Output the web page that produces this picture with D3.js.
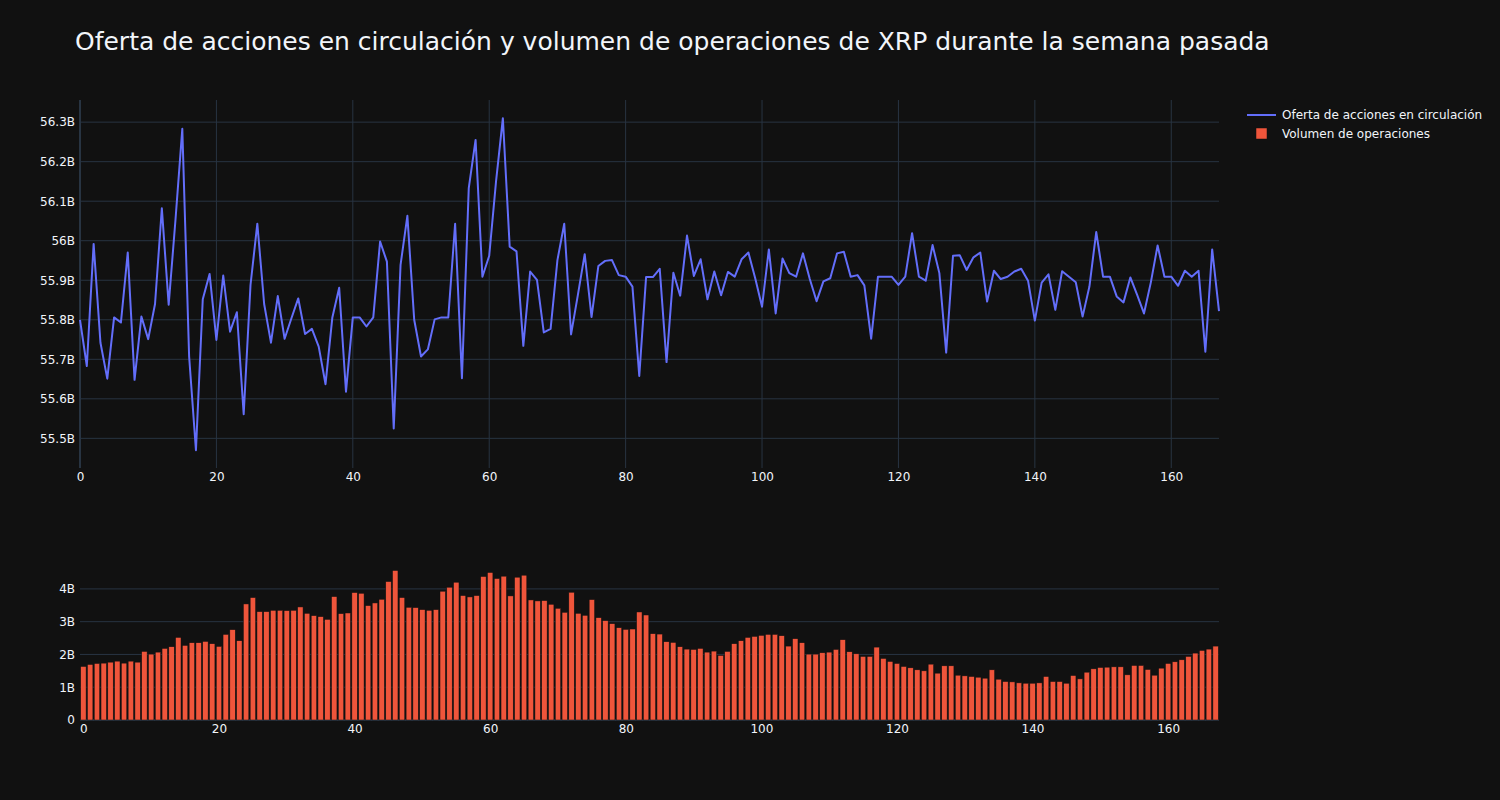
<!DOCTYPE html>
<html>
<head>
<meta charset="utf-8">
<script src="https://cdn.jsdelivr.net/npm/d3@7"></script>
<style>
  body { margin: 0; background: #111111; }
  svg { display: block; font-family: "DejaVu Sans", Verdana, sans-serif; }
</style>
</head>
<body>
<svg id="chart"></svg>
<script>
// Circulating supply, in billions, one value per hour (0..167)
let supply = [
  55.80, 55.683, 55.992, 55.742, 55.651, 55.806, 55.793, 55.97, 55.648, 55.808,
  55.751, 55.84, 56.082, 55.838, 56.053, 56.283, 55.707, 55.47, 55.852, 55.916,
  55.749, 55.912, 55.77, 55.819, 55.561, 55.888, 56.043, 55.84, 55.742, 55.86,
  55.752, 55.804, 55.854, 55.764, 55.777, 55.732, 55.637, 55.806, 55.881, 55.618,
  55.806, 55.806, 55.783, 55.806, 55.998, 55.947, 55.525, 55.939, 56.063, 55.80,
  55.707, 55.725, 55.801, 55.806, 55.806, 56.043, 55.652, 56.133, 56.255, 55.909,
  55.962, 56.15, 56.31, 55.985, 55.973, 55.734, 55.922, 55.901, 55.768, 55.777,
  55.951, 56.043, 55.763, 55.863, 55.966, 55.807, 55.936, 55.949, 55.951, 55.913,
  55.909, 55.884, 55.658, 55.908, 55.908, 55.929, 55.693, 55.919, 55.861, 56.013,
  55.911, 55.953, 55.852, 55.922, 55.862, 55.921, 55.909, 55.953, 55.97, 55.905,
  55.833, 55.978, 55.816, 55.955, 55.918, 55.909, 55.968, 55.903, 55.847, 55.897,
  55.905, 55.968, 55.972, 55.909, 55.913, 55.887, 55.752, 55.909, 55.909, 55.909,
  55.888, 55.909, 56.019, 55.909, 55.899, 55.989, 55.918, 55.717, 55.962, 55.963,
  55.926, 55.958, 55.97, 55.846, 55.924, 55.903, 55.909, 55.922, 55.929, 55.899,
  55.798, 55.894, 55.915, 55.825, 55.923, 55.909, 55.895, 55.808, 55.884, 56.022,
  55.909, 55.909, 55.859, 55.844, 55.907, 55.863, 55.816, 55.894, 55.988, 55.909,
  55.909, 55.886, 55.924, 55.909, 55.924, 55.719, 55.978, 55.822
];

// Trading volume, in billions
let volume = [
  1.633, 1.694, 1.724, 1.735, 1.765, 1.796, 1.735, 1.796, 1.765, 2.092,
  2.01, 2.071, 2.184, 2.235, 2.52, 2.276, 2.357, 2.357, 2.398, 2.327,
  2.245, 2.612, 2.755, 2.418, 3.541, 3.735, 3.306, 3.306, 3.347, 3.347,
  3.337, 3.347, 3.449, 3.255, 3.184, 3.153, 3.071, 3.765, 3.245, 3.265,
  3.888, 3.867, 3.49, 3.571, 3.684, 4.224, 4.561, 3.735, 3.439, 3.429,
  3.367, 3.347, 3.367, 3.929, 4.051, 4.204, 3.796, 3.755, 3.796, 4.378,
  4.5, 4.316, 4.388, 3.786, 4.357, 4.418, 3.663, 3.633, 3.643, 3.531,
  3.408, 3.286, 3.898, 3.255, 3.194, 3.673, 3.122, 3.031, 2.939, 2.816,
  2.765, 2.776, 3.296, 3.204, 2.633, 2.622, 2.388, 2.367, 2.235, 2.163,
  2.153, 2.184, 2.071, 2.102, 1.969, 2.092, 2.327, 2.418, 2.52, 2.551,
  2.582, 2.612, 2.612, 2.571, 2.255, 2.48, 2.357, 2.01, 2.01, 2.051,
  2.071, 2.153, 2.449, 2.082, 2.02, 1.939, 1.939, 2.224, 1.878, 1.786,
  1.724, 1.633, 1.592, 1.531, 1.5, 1.704, 1.429, 1.653, 1.653, 1.367,
  1.347, 1.327, 1.306, 1.276, 1.531, 1.245, 1.173, 1.163, 1.133, 1.122,
  1.122, 1.133, 1.327, 1.173, 1.173, 1.122, 1.357, 1.255, 1.459, 1.561,
  1.602, 1.612, 1.622, 1.622, 1.378, 1.663, 1.663, 1.541, 1.367, 1.582,
  1.724, 1.776, 1.837, 1.939, 2.041, 2.122, 2.163, 2.255
];

let xTicks = [0, 20, 40, 60, 80, 100, 120, 140, 160];
let supplyTicks = [55.5, 55.6, 55.7, 55.8, 55.9, 56.0, 56.1, 56.2, 56.3];
let volumeTicks = [0, 1, 2, 3, 4];

let titleText =
  "Oferta de acciones en circulación y volumen de operaciones de XRP durante la semana pasada";
let seriesNames = ["Oferta de acciones en circulación", "Volumen de operaciones"];

let width = 1500;
let height = 800;
let gridColor = "#283442";
let textColor = "#f2f5fa";

let svg = d3
  .select("#chart")
  .attr("width", width)
  .attr("height", height)
  .style("background", "#111111");

// billions -> "56.3B", "56B", "0"
function fmtB(v) {
  if (v === 0) return "0";
  return +v.toFixed(1) + "B";
}

// layout of the two panels
let left = 80;
let right = 1219;
let top1 = 100;
let bottom1 = 468;
let top2 = 563;
let bottom2 = 720;

let x1 = d3.scaleLinear().domain([0, supply.length - 1]).range([left, right]);
let y1 = d3.scaleLinear().domain([55.425, 56.356]).range([bottom1, top1]);

let x2 = d3.scaleLinear().domain([-0.5, volume.length - 0.5]).range([left, right]);
let y2 = d3.scaleLinear().domain([0, 4.79]).range([bottom2, top2]);

// ---- top panel: grid
let g1 = svg.append("g");

g1.append("g")
  .selectAll("line")
  .data(supplyTicks)
  .enter()
  .append("line")
  .attr("x1", left)
  .attr("x2", right)
  .attr("y1", (d) => y1(d))
  .attr("y2", (d) => y1(d))
  .attr("stroke", gridColor)
  .attr("stroke-width", 1);

g1.append("g")
  .selectAll("line")
  .data(xTicks)
  .enter()
  .append("line")
  .attr("x1", (d) => x1(d))
  .attr("x2", (d) => x1(d))
  .attr("y1", top1)
  .attr("y2", bottom1)
  .attr("stroke", gridColor)
  .attr("stroke-width", (d) => (d === 0 ? 2 : 1));

// axes (text only, plotly style)
let yAxis1 = g1
  .append("g")
  .attr("transform", `translate(${left - 2},0)`)
  .call(d3.axisLeft(y1).tickValues(supplyTicks).tickFormat(fmtB).tickSize(0));

let xAxis1 = g1
  .append("g")
  .attr("transform", `translate(0,${bottom1})`)
  .call(d3.axisBottom(x1).tickValues(xTicks).tickFormat(d3.format("d")).tickSize(0));

// supply line
let line = d3
  .line()
  .x((d, i) => x1(i))
  .y((d) => y1(d));

g1.append("path")
  .datum(supply)
  .attr("d", line)
  .attr("fill", "none")
  .attr("stroke", "#636efa")
  .attr("stroke-width", 2)
  .attr("stroke-linejoin", "round");

// ---- bottom panel (horizontal grid only)
let g2 = svg.append("g");

g2.append("g")
  .selectAll("line")
  .data(volumeTicks.filter((d) => d !== 0))
  .enter()
  .append("line")
  .attr("x1", left)
  .attr("x2", right)
  .attr("y1", (d) => y2(d))
  .attr("y2", (d) => y2(d))
  .attr("stroke", gridColor)
  .attr("stroke-width", 1);

// y zero line
g2.append("line")
  .attr("x1", left)
  .attr("x2", right)
  .attr("y1", y2(0))
  .attr("y2", y2(0))
  .attr("stroke", gridColor)
  .attr("stroke-width", 2);

let yAxis2 = g2
  .append("g")
  .attr("transform", `translate(${left - 2},0)`)
  .call(d3.axisLeft(y2).tickValues(volumeTicks).tickFormat(fmtB).tickSize(0));

let xAxis2 = g2
  .append("g")
  .attr("transform", `translate(0,${bottom2})`)
  .call(d3.axisBottom(x2).tickValues(xTicks).tickFormat(d3.format("d")).tickSize(0));

let barW = (x2(1) - x2(0)) * 0.8;

g2.append("g")
  .selectAll("rect")
  .data(volume)
  .enter()
  .append("rect")
  .attr("x", (d, i) => x2(i) - barW / 2)
  .attr("width", barW)
  .attr("y", (d) => y2(d))
  .attr("height", (d) => y2(0) - y2(d))
  .attr("fill", "#EF553B")
  .attr("stroke", "#111111")
  .attr("stroke-width", 0.5);

// axis text styling
[yAxis1, xAxis1, yAxis2, xAxis2].forEach(function (ax) {
  ax.select(".domain").remove();
  ax.selectAll("text")
    .attr("fill", textColor)
    .style("font-size", "12px")
    .style("font-family", '"DejaVu Sans", Verdana, sans-serif');
});
xAxis1.selectAll("text").attr("dy", "0.71em").attr("y", 4);
xAxis2.selectAll("text").attr("dy", "0.71em").attr("y", 4);

// title
svg
  .append("text")
  .attr("x", 75)
  .attr("y", 50)
  .attr("fill", textColor)
  .style("font-size", "25px")
  .text(titleText);

// legend
let legend = svg.append("g").attr("transform", "translate(1247,115)");

legend
  .append("line")
  .attr("x1", 0)
  .attr("x2", 29)
  .attr("y1", 0)
  .attr("y2", 0)
  .attr("stroke", "#636efa")
  .attr("stroke-width", 2);

legend
  .append("rect")
  .attr("x", 9)
  .attr("y", 13)
  .attr("width", 11)
  .attr("height", 11)
  .attr("fill", "#EF553B")
  .attr("stroke", "#111111")
  .attr("stroke-width", 0.5);

legend
  .selectAll("text")
  .data(seriesNames)
  .enter()
  .append("text")
  .attr("x", 35)
  .attr("y", (d, i) => i * 19)
  .attr("dy", "0.35em")
  .attr("fill", textColor)
  .style("font-size", "12px")
  .text((d) => d);
</script>
</body>
</html>
